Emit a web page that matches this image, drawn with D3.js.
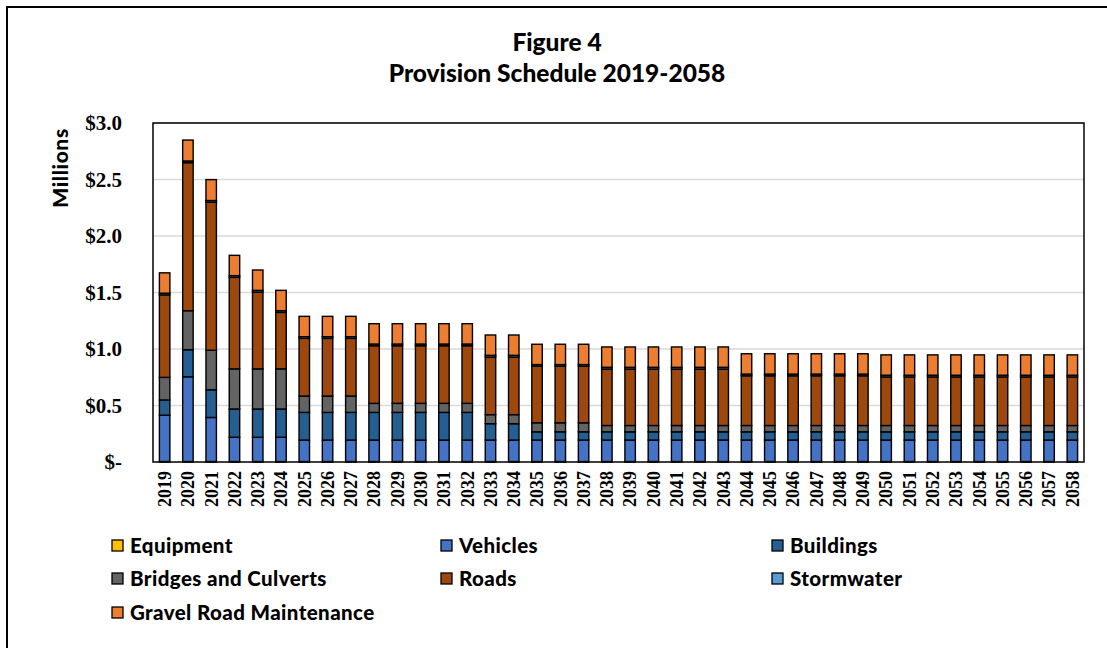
<!DOCTYPE html>
<html><head><meta charset="utf-8">
<script src="https://cdn.jsdelivr.net/npm/d3@7"></script>
<style>body{margin:0;background:#fff}svg{display:block}</style>
</head><body>
<svg id="c" width="1107" height="648"></svg>
<script>
const years = ["2019","2020","2021","2022","2023","2024","2025","2026","2027","2028","2029","2030","2031","2032","2033","2034","2035","2036","2037","2038","2039","2040","2041","2042","2043","2044","2045","2046","2047","2048","2049","2050","2051","2052","2053","2054","2055","2056","2057","2058"];
const seriesNames = ["Equipment","Vehicles","Buildings","Bridges and Culverts","Roads","Stormwater","Gravel Road Maintenance"];
const seriesColors = ["#FFC000","#4472C4","#255E91","#636363","#9E480E","#5B9BD5","#ED7D31"];
const equipment = [0.004,0.004,0.004,0.004,0.004,0.004,0.004,0.004,0.004,0.004,0.004,0.004,0.004,0.004,0.004,0.004,0.004,0.004,0.004,0.004,0.004,0.004,0.004,0.004,0.004,0.004,0.004,0.004,0.004,0.004,0.004,0.004,0.004,0.004,0.004,0.004,0.004,0.004,0.004,0.004];
const vehicles = [0.41,0.75,0.39,0.215,0.215,0.215,0.19,0.19,0.19,0.19,0.19,0.19,0.19,0.19,0.19,0.19,0.19,0.19,0.19,0.19,0.19,0.19,0.19,0.19,0.19,0.19,0.19,0.19,0.19,0.19,0.19,0.19,0.19,0.19,0.19,0.19,0.19,0.19,0.19,0.19];
const buildings = [0.135,0.24,0.245,0.25,0.25,0.25,0.245,0.245,0.245,0.245,0.245,0.245,0.245,0.245,0.145,0.145,0.073,0.073,0.073,0.073,0.073,0.073,0.073,0.073,0.073,0.073,0.073,0.073,0.073,0.073,0.073,0.073,0.073,0.073,0.073,0.073,0.073,0.073,0.073,0.073];
const bridges = [0.20,0.345,0.35,0.355,0.355,0.355,0.145,0.145,0.145,0.08,0.08,0.08,0.08,0.08,0.08,0.08,0.08,0.08,0.08,0.056,0.056,0.056,0.056,0.056,0.056,0.056,0.056,0.056,0.056,0.056,0.056,0.056,0.056,0.056,0.056,0.056,0.056,0.056,0.056,0.056];
const roads = [0.73,1.31,1.31,0.81,0.68,0.50,0.51,0.51,0.51,0.51,0.51,0.51,0.51,0.51,0.51,0.51,0.50,0.50,0.50,0.50,0.50,0.50,0.50,0.50,0.50,0.44,0.44,0.44,0.44,0.44,0.44,0.43,0.43,0.43,0.43,0.43,0.43,0.43,0.43,0.43];
const stormwater = [0.015,0.015,0.015,0.015,0.015,0.015,0.015,0.015,0.015,0.015,0.015,0.015,0.015,0.015,0.015,0.015,0.015,0.015,0.015,0.015,0.015,0.015,0.015,0.015,0.015,0.015,0.015,0.015,0.015,0.015,0.015,0.015,0.015,0.015,0.015,0.015,0.015,0.015,0.015,0.015];
const gravel = [0.18,0.185,0.185,0.18,0.18,0.18,0.18,0.18,0.18,0.18,0.18,0.18,0.18,0.18,0.18,0.18,0.18,0.18,0.18,0.18,0.18,0.18,0.18,0.18,0.18,0.18,0.18,0.18,0.18,0.18,0.18,0.18,0.18,0.18,0.18,0.18,0.18,0.18,0.18,0.18];
const yTicks = [0,0.5,1.0,1.5,2.0,2.5,3.0];
const yTickLabels = ["$-","$0.5","$1.0","$1.5","$2.0","$2.5","$3.0"];

const allSeries = [equipment,vehicles,buildings,bridges,roads,stormwater,gravel];
const rows = years.map((y,i)=>{const r={year:y}; seriesNames.forEach((n,k)=>r[n]=allSeries[k][i]); return r;});
const stacked = d3.stack().keys(seriesNames)(rows);

const svg = d3.select("#c");
const L=153,R=1084,T=123,B=462;
const sansBold = "Lato, 'Open Sans', sans-serif";
const serif = "'Liberation Serif','Times New Roman',serif";

// outer frame (left & top)
svg.append("path").attr("d","M7,648 V7 H1107").attr("fill","none").attr("stroke","#000").attr("stroke-width",2);

const x = d3.scaleBand().domain(years).range([L,R]).paddingInner(0.55).paddingOuter(0.275);
const y = d3.scaleLinear().domain([0,3]).range([B,T]);

// gridlines
svg.append("g").selectAll("line").data(yTicks.slice(1)).join("line")
  .attr("x1",L).attr("x2",R).attr("y1",d=>y(d)).attr("y2",d=>y(d))
  .attr("stroke","#d9d9d9").attr("stroke-width",1.5);

// bars
const g = svg.append("g");
stacked.forEach((s,k)=>{
  g.append("g").selectAll("rect").data(s).join("rect")
   .attr("x",d=>x(d.data.year)).attr("width",x.bandwidth())
   .attr("y",d=>y(d[1])).attr("height",d=>y(d[0])-y(d[1]))
   .attr("fill",seriesColors[k]).attr("stroke","#000").attr("stroke-width",1.4);
});

// plot frame
svg.append("rect").attr("x",L).attr("y",T).attr("width",R-L).attr("height",B-T)
  .attr("fill","none").attr("stroke","#000").attr("stroke-width",1.5);

// y axis
const yAxis = d3.axisLeft(y).tickValues(yTicks).tickFormat((d,i)=>yTickLabels[i]).tickSize(0).tickPadding(31);
const ya = svg.append("g").attr("transform",`translate(${L},0)`).call(yAxis);
ya.select(".domain").remove();
ya.selectAll("text").attr("font-family",serif).attr("font-weight","bold").attr("font-size",21).attr("fill","#000");

// x axis
const xAxis = d3.axisBottom(x).tickSize(0).tickPadding(0);
const xa = svg.append("g").attr("transform",`translate(0,${B})`).call(xAxis);
xa.select(".domain").remove();
xa.selectAll("text").attr("font-family",serif).attr("font-weight","bold").attr("font-size",18).attr("fill","#000")
  .attr("transform","rotate(-90)").attr("text-anchor","end").attr("x",-9).attr("y",0).attr("dy","0.35em");

// y title
svg.append("text").attr("transform","translate(68,168) rotate(-90)").attr("text-anchor","middle")
  .attr("font-family",sansBold).attr("font-weight","900").attr("font-size",21).attr("letter-spacing",0.6).text("Millions");

// title
svg.append("text").attr("x",557).attr("y",51).attr("text-anchor","middle")
  .attr("font-family",sansBold).attr("font-weight","900").attr("font-size",24.5).text("Figure 4");
svg.append("text").attr("x",557).attr("y",82).attr("text-anchor","middle")
  .attr("font-family",sansBold).attr("font-weight","900").attr("font-size",24.5).text("Provision Schedule 2019-2058");

// legend
const legX=[112,441,772], legY=[545,578,612];
const lg = svg.append("g");
seriesNames.forEach((n,i)=>{
  const cx=legX[i%3], cy=legY[Math.floor(i/3)];
  lg.append("rect").attr("x",cx).attr("y",cy-5).attr("width",11).attr("height",11)
    .attr("fill",seriesColors[i]).attr("stroke","#000").attr("stroke-width",1.3);
  lg.append("text").attr("x",cx+18).attr("y",cy+1).attr("dy","0.35em")
    .attr("font-family",sansBold).attr("font-weight","900").attr("font-size",20.5).attr("letter-spacing",0.4).text(n);
});
</script>
</body></html>
